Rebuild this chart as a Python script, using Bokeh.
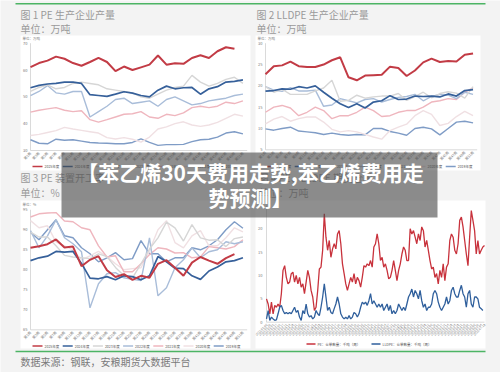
import numpy as np
import pandas as pd
from bokeh.plotting import figure
from bokeh.models import Range1d
from bokeh.core.properties import value
from bokeh.embed import file_html
from bokeh.resources import INLINE

nan = float("nan")
FONT = value("Noto Sans CJK SC")

# ---------------- data ----------------
years = ["2025年度", "2024年度", "2023年度", "2022年度", "2021年度", "2020年度", "2019年度"]
year_colors = ["#c23b45", "#36609a", "#d6d6d6", "#a9bdd9", "#efb6be", "#f0e0e3", "#7f9cc6"]
year_widths = [2.0, 1.7, 1.4, 1.4, 1.4, 1.4, 1.4]

weeks = list(range(1, 52, 2))
week_labels = ["第%d周" % w for w in weeks]

# Fig 1 PE production (万吨)
pe_prod = {
    "2025年度": [61.1, 62.6, 63.5, 65.0, 64.2, 62.6, 61.6, 63.0, 64.5, 63.0, 59.6, 61.3, 60.0, 61.0, 62.0, 65.4, 62.0, 62.5, 62.3, 64.5, 65.5, 64.5, 67.0, 68.5, 67.9, nan],
    "2024年度": [53.4, 54.3, 54.8, 55.0, 55.5, 55.5, 55.0, 50.8, 50.5, 50.2, 51.0, 51.9, 51.4, 50.5, 50.0, 52.5, 54.0, 53.0, 53.4, 53.5, 51.0, 53.0, 53.8, 55.5, 55.8, 56.3],
    "2023年度": [52.0, 53.5, 54.5, 53.0, 53.5, 55.0, 55.5, 55.0, 54.5, 53.0, 52.5, 52.0, 51.5, 50.0, 49.5, 51.0, 52.5, 53.5, 54.0, 58.0, 55.5, 54.0, 55.0, 56.5, 57.3, 55.0],
    "2022年度": [50.5, 52.0, 54.2, 51.5, 51.0, 52.0, 52.0, 42.5, 44.5, 46.5, 49.0, 49.5, 47.5, 48.0, 48.5, 46.5, 49.0, 50.0, 48.5, 47.0, 47.5, 48.5, 49.0, 49.5, 50.5, 51.0],
    "2021年度": [44.3, 45.0, 45.5, 46.0, 45.0, 44.5, 44.8, 41.5, 40.6, 41.5, 42.5, 43.5, 43.7, 44.5, 42.5, 42.0, 43.5, 43.0, 44.0, 46.0, 46.5, 46.0, 46.5, 48.0, 47.5, 48.5],
    "2020年度": [35.6, 36.0, 36.7, 37.4, 38.6, 38.0, 37.5, 37.0, 36.5, 34.8, 34.3, 34.8, 34.2, 33.1, 35.0, 38.0, 38.8, 40.0, 40.7, 39.5, 39.0, 39.5, 40.5, 42.0, 43.5, 42.8],
    "2019年度": [34.0, 32.7, 32.5, 34.2, 33.8, 34.0, 33.5, 33.0, 32.8, 32.7, 32.5, 32.5, 33.0, 34.3, 33.0, 31.9, 32.2, 32.2, 32.3, 33.3, 34.0, 34.2, 35.0, 36.5, 37.0, 36.2],
}
pe_prod_ticks = [30, 40, 50, 60, 70]

# Fig 2 LLDPE production (万吨)
lldpe_prod = {
    "2025年度": [22.7, 24.6, 24.8, 25.7, 24.6, 24.4, 24.4, 25.0, 26.0, 26.7, 22.0, 21.3, 22.4, 22.5, 22.6, 24.5, 24.2, 22.3, 23.6, 25.5, 26.4, 25.6, 25.8, 25.7, 27.3, 27.6],
    "2024年度": [18.75, 18.9, 19.3, 19.2, 19.8, 19.5, 20.0, 18.5, 17.1, 15.8, 14.9, 15.8, 14.8, 16.2, 16.5, 17.7, 16.8, 16.9, 17.6, 17.5, 17.6, 17.4, 18.1, 17.6, 18.9, 19.1],
    "2023年度": [19.8, 18.5, 19.2, 18.0, 18.0, 18.0, 18.8, 19.5, 21.3, 16.4, 16.6, 17.8, 17.1, 17.4, 17.6, 17.6, 18.2, 16.6, 17.5, 18.5, 17.2, 18.2, 18.6, 18.3, 17.1, 19.8],
    "2022年度": [19.8, 19.0, 18.7, 19.6, 18.8, 18.8, 19.0, 15.2, 15.5, 17.0, 16.5, 16.0, 16.8, 17.0, 16.2, 16.8, 17.3, 17.5, 18.0, 16.5, 17.5, 18.0, 17.8, 17.0, 18.5, 18.0],
    "2021年度": [13.8, 15.0, 15.4, 14.8, 13.0, 13.8, 15.0, 14.2, 12.3, 13.0, 13.0, 13.8, 15.0, 14.2, 12.8, 13.0, 13.8, 14.2, 14.2, 15.0, 16.2, 16.5, 17.0, 16.8, 18.5, 19.5],
    "2020年度": [11.1, 12.2, 12.8, 11.7, 12.3, 12.7, 12.7, 11.5, 9.8, 9.2, 9.5, 9.2, 8.6, 8.0, 7.5, 9.5, 10.3, 11.0, 13.0, 14.2, 13.3, 10.7, 11.2, 12.8, 14.0, 13.0],
    "2019年度": [9.9, 9.6, 10.0, 10.3, 9.4, 9.2, 9.0, 8.6, 8.9, 8.6, 8.4, 8.6, 8.5, 10.0, 10.0, 9.3, 8.9, 8.4, 10.0, 10.3, 9.9, 8.5, 10.0, 11.5, 11.7, 11.3],
}
lldpe_prod_ticks = [5, 10, 15, 20, 25, 30]

# Fig 3 PE operating rate (%)
pe_rate = {
    "2025年度": [85.5, 85.9, 86.4, 87.6, 85.6, 85.8, 80.9, 82.5, 83.4, 79.9, 78.2, 78.9, 77.5, 78.5, 78.0, 81.5, 82.4, 80.5, 78.5, 81.8, 83.2, 82.3, 81.5, 82.9, 83.9, nan],
    "2024年度": [82.3, 83.0, 83.4, 84.6, 84.4, 84.6, 81.6, 77.9, 77.75, 78.3, 77.5, 78.5, 78.3, 77.5, 78.5, 83.3, 82.0, 80.4, 80.3, 78.5, 77.6, 79.7, 80.7, 82.0, 82.3, 83.0],
    "2023年度": [89.4, 88.2, 88.2, 86.0, 83.6, 83.2, 83.0, 82.8, 84.0, 83.3, 80.6, 78.5, 78.0, 81.5, 85.2, 88.0, 91.9, 90.5, 87.2, 91.3, 88.0, 87.4, 87.5, 85.8, 87.8, 88.2],
    "2022年度": [89.8, 85.5, 88.5, 92.5, 88.0, 86.5, 84.5, 70.5, 76.5, 79.0, 79.3, 78.0, 77.6, 77.3, 88.0, 73.5, 75.5, 80.5, 82.5, 85.5, 83.0, 84.5, 85.0, 87.0, 86.5, 87.0],
    "2021年度": [93.2, 94.0, 94.2, 94.3, 92.2, 92.0, 90.5, 90.0, 86.0, 83.2, 83.5, 79.5, 79.5, 81.5, 83.8, 85.5, 85.2, 84.2, 84.3, 83.0, 83.2, 85.8, 85.5, 85.2, 85.8, 87.5],
    "2020年度": [92.3, 90.5, 91.0, 87.0, 86.0, 85.0, 82.5, 83.5, 84.6, 83.3, 81.5, 80.0, 80.3, 80.5, 84.8, 90.0, 92.3, 86.8, 85.5, 88.5, 89.8, 86.0, 86.0, 88.0, 90.5, 89.5],
    "2019年度": [89.4, 87.5, 90.0, 92.5, 88.5, 88.0, 85.5, 84.0, 82.0, 83.0, 84.3, 82.5, 82.8, 87.3, 84.0, 84.0, 82.0, 83.0, 83.0, 85.5, 85.0, 86.0, 87.5, 90.0, 92.0, 90.4],
}
pe_rate_ticks = [65, 70, 75, 80, 85, 90, 95]

# Fig 4 warehouse receipts
wr_pe = [5.0, 3.9, 1.8, 4.3, 1.8, 3.6, 3.2, 3.9, 3.2, 6.1, 11.1, 12.1, 9.6, 8.2, 8.6, 10.4, 10.7, 8.6, 10.0, 8.2,
         9.6, 7.5, 8.2, 6.1, 8.6, 11.1, 9.6, 6.8, 5.4, 2.5, 3.2, 6.8, 11.4, 11.8, 15.4, 23.2, 18.2, 15.4, 17.5, 13.9,
         15.7, 16.8, 15.7, 18.9, 19.6, 16.8, 12.5, 10.4, 8.2, 6.8, 8.2, 9.6, 8.6, 10.4, 8.2, 9.6, 8.9, 7.5, 9.6, 12.1,
         11.8, 12.5, 12.1, 13.2, 11.8, 16.1, 16.8, 18.9, 16.8, 13.2, 13.9, 11.8, 12.5, 11.1, 9.3, 9.6, 11.1, 13.2, 11.1, 8.9,
         11.1, 12.5, 14.6, 16.1, 15.4, 13.2, 13.2, 20.0, 18.9, 19.6, 18.2, 16.8, 18.9, 17.5, 20.4, 19.6, 16.1, 17.5, 15.4, 13.2,
         11.4, 11.8, 9.6, 10.4, 8.2, 11.1, 9.6, 12.5, 8.9, 11.8, 12.5, 17.5, 18.9, 18.2, 15.4, 14.6, 16.8, 21.8, 22.5, 20.4,
         17.5, 14.6, 12.1, 18.2, 23.9, 21.8, 19.6, 14.6, 17.5, 14.6, 15.4, 16.1, 16.4]
wr_lldpe = [0.7, 2.5, 0.4, 1.1, 0.7, 0.4, 0.5, 1.8, 3.2, 3.6, 2.5, 1.8, 2.1, 1.8, 2.1, 1.8, 2.5, 3.2, 2.1, 2.5,
            1.1, 0.4, 2.5, 1.8, 3.9, 1.8, 1.1, 1.4, 0.7, 1.1, 2.5, 1.8, 1.4, 3.2, 5.4, 8.2, 5.4, 2.5, 3.2, 2.1,
            1.8, 2.9, 3.9, 5.4, 3.9, 1.8, 1.1, 0.7, 1.1, 0.7, 1.4, 0.7, 1.1, 2.1, 1.8, 1.1, 1.8, 3.2, 4.3, 3.9,
            4.3, 3.6, 4.6, 6.1, 3.9, 4.6, 3.9, 3.2, 3.9, 3.2, 3.9, 2.5, 3.2, 3.9, 2.5, 3.6, 1.8, 2.5, 1.8, 2.5,
            3.9, 3.2, 2.5, 3.2, 2.5, 3.9, 5.4, 6.1, 7.1, 5.4, 6.8, 6.1, 5.0, 6.8, 4.6, 3.2, 3.9, 2.5, 3.2, 3.2,
            3.9, 6.1, 6.8, 6.1, 4.3, 3.2, 2.5, 3.2, 3.9, 5.4, 3.9, 4.6, 6.8, 7.5, 6.1, 5.4, 5.4, 6.8, 7.9, 6.1,
            5.4, 3.2, 6.1, 6.8, 3.9, 3.2, 5.4, 5.4, 5.0, 3.2, 2.9, 2.5]
wr_series = ["PE：仓单数量：千吨（周）", "LLDPE：仓单数量：千吨（周）"]
wr_colors = ["#c8323c", "#2f5f9c"]
wr_ticks = [0, 5, 10, 15, 20, 25]
wr_n = max(len(wr_pe), len(wr_lldpe))
wr_dates = [d.strftime("%Y-%m-%d") for d in pd.date_range("2023-01-06", periods=wr_n, freq="7D")]

# ---------------- canvas ----------------
# The figure is pinned to the page corner so that it covers the whole 500x372 window.
W, H = 500, 372
OX, OY = 0, 0
BG = "#f3f3f3"

p = figure(width=W, height=H, output_backend="svg", toolbar_location=None,
           x_range=Range1d(OX, OX + W), y_range=Range1d(OY + H, OY),
           x_axis_type=None, y_axis_type=None, min_border=0)
p.styles = {"position": "absolute", "left": "0px", "top": "0px"}
p.outline_line_color = None
p.background_fill_color = BG
p.border_fill_color = BG


def lin_range(p0, v0, p1, v1, lo, hi):
    k = (v1 - v0) / (p1 - p0)
    return Range1d(start=v0 + (lo - p0) * k, end=v0 + (hi - p0) * k)


def txt(x, y, s, size, color, align="left", baseline="middle", style="normal", **kw):
    p.text(x=x, y=y, text=s, text_font=FONT, text_font_size=size, text_color=color,
           text_align=align, text_baseline=baseline, text_font_style=style, **kw)


# top rule
p.segment(x0=[15], y0=[3.3], x1=[485], y1=[3.3], line_color="#4cb464", line_width=1.5)

# panel boxes (white)
boxes = [(20, 250, 35, 170), (255, 480, 35, 170), (20, 250, 200, 348), (255, 485, 200, 348)]
for l, r, t, b in boxes:
    p.quad(left=l, right=r, top=t, bottom=b, fill_color="white", line_color=None)

# titles
titles = [(20, 13.5, "图 1 PE 生产企业产量"), (20, 28, "单位：万吨"),
          (256, 13.5, "图 2 LLDPE 生产企业产量"), (256, 28, "单位：万吨"),
          (20, 177, "图 3 PE 装置开工率"), (20, 192, "单位：%"),
          (258, 177, "图 4 PE、LLDPE 期货仓单"), (258, 192, "单位：万吨")]
for x, y, s in titles:
    txt([x], [y], [s], "10px", "#9a9a9a")

AX = "#d0d0d0"
LAB = "#7a7a7a"


def seasonal_panel(name, data, ticks, px0, px1, py_top, py_bot, unit, leg_x, leg_y):
    xr = "x" + name
    yr = "y" + name
    p.extra_x_ranges[xr] = lin_range(px0, 1, px1, 52, OX, OX + W)
    p.extra_y_ranges[yr] = lin_range(py_bot, ticks[0], py_top, ticks[-1], OY + H, OY)
    # axes
    p.segment(x0=[1], y0=[ticks[0]], x1=[1], y1=[ticks[-1]], line_color=AX, line_width=0.8,
              x_range_name=xr, y_range_name=yr)
    p.segment(x0=[1], y0=[ticks[0]], x1=[52], y1=[ticks[0]], line_color=AX, line_width=0.8,
              x_range_name=xr, y_range_name=yr)
    txt([px0 - 3] * len(ticks), ticks, [str(t) for t in ticks], "4px", LAB, align="right",
        y_range_name=yr)
    txt([px0 - 8], [py_top - 5], [unit], "3.5px", LAB)
    txt(weeks, [py_bot + 2] * len(weeks), week_labels, "3.5px", LAB, align="right",
        angle=np.pi / 4, x_range_name=xr)
    # series (oldest first so that 2025 is on top)
    for i in range(len(years) - 1, -1, -1):
        yname = years[i]
        p.line(x=weeks, y=data[yname], line_color=year_colors[i], line_width=year_widths[i],
               x_range_name=xr, y_range_name=yr)
    # legend
    for i, yname in enumerate(years):
        lx = leg_x + i * 30.2
        p.segment(x0=[lx], y0=[leg_y], x1=[lx + 10], y1=[leg_y], line_color=year_colors[i], line_width=1.5)
        txt([lx + 12], [leg_y], [yname], "3.5px", "#555555")


seasonal_panel("1", pe_prod, pe_prod_ticks, 30, 246.7, 42.7, 150, "单位：万吨", 32, 166)
seasonal_panel("2", lldpe_prod, lldpe_prod_ticks, 265, 476.7, 42.7, 149.3, "单位：万吨", 264, 166)
seasonal_panel("3", pe_rate, pe_rate_ticks, 30, 246.7, 209.3, 329.3, "单位：%", 32, 345.5)

# panel 4
p.extra_x_ranges["x4"] = lin_range(266, 0, 484, wr_n - 1, OX, OX + W)
p.extra_y_ranges["y4"] = lin_range(321.7, 0, 228.3, 20, OY + H, OY)
p.segment(x0=[0], y0=[0], x1=[0], y1=[wr_ticks[-1]], line_color=AX, line_width=0.8,
          x_range_name="x4", y_range_name="y4")
p.segment(x0=[0], y0=[0], x1=[wr_n - 1], y1=[0], line_color=AX, line_width=0.8,
          x_range_name="x4", y_range_name="y4")
txt([262] * len(wr_ticks), wr_ticks, [str(t) for t in wr_ticks], "4px", LAB, align="right",
    y_range_name="y4")
lab_idx = list(range(0, wr_n, 2))
txt(lab_idx, [323.5] * len(lab_idx), [wr_dates[i] for i in lab_idx], "3px", LAB, align="right",
    angle=np.pi / 4, x_range_name="x4")
for vals, col in zip([wr_pe, wr_lldpe], wr_colors):
    p.line(x=list(range(len(vals))), y=vals, line_color=col, line_width=1.3,
           x_range_name="x4", y_range_name="y4")
for i, (s, col) in enumerate(zip(wr_series, wr_colors)):
    lx = 306 + i * 65
    p.segment(x0=[lx], y0=[343.5], x1=[lx + 9], y1=[343.5], line_color=col, line_width=1.5)
    txt([lx + 11], [343.5], [s], "3.5px", "#555555")

# bottom rule + source
p.segment(x0=[15], y0=[351], x1=[485], y1=[351], line_color="#4cb464", line_width=1.5)
txt([20], [361], ["数据来源：钢联，安粮期货大数据平台"], "10px", "#7a7a7a")

# overlay banner
p.quad(left=61, right=437, top=152, bottom=217, fill_color="#4a4a4a", fill_alpha=0.62, line_color=None)
txt([250, 250], [171.5, 196.5], ["【苯乙烯30天费用走势,苯乙烯费用走", "势预测】"], "21px", "white",
    align="center", style="bold")

open("out.html", "w").write(file_html(p, INLINE))
